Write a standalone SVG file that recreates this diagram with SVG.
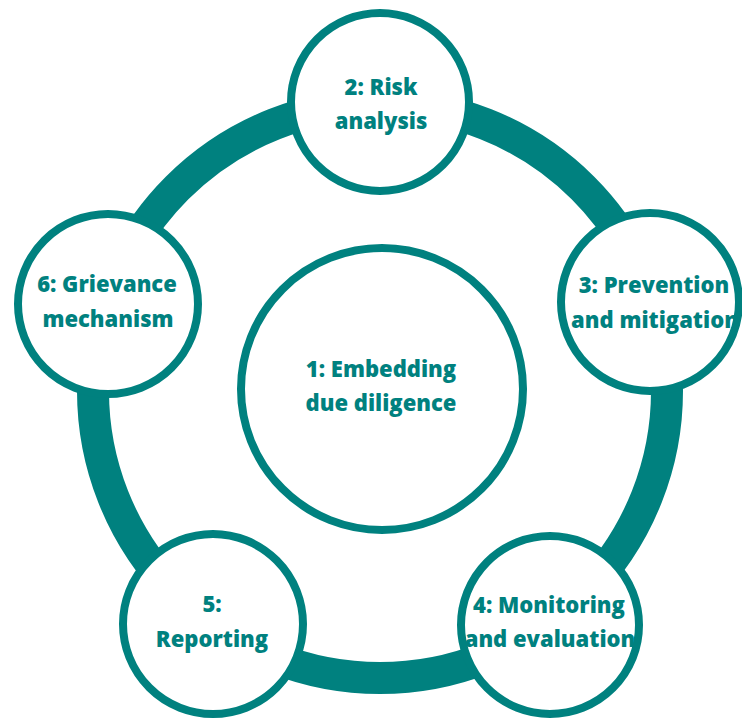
<svg xmlns="http://www.w3.org/2000/svg" width="742" height="720" viewBox="0 0 742 720">
  <style>
    .ring { fill: none; stroke: #00817f; stroke-width: 32; }
    .node { fill: #ffffff; stroke: #00817f; stroke-width: 8; }
    .label { font-family: "Open Sans", "Liberation Sans", sans-serif; font-weight: 800; font-size: 22px; fill: #00817f; text-anchor: middle; }
  </style>
  <rect width="742" height="720" fill="#ffffff"/>
  <!-- cycle band linking the five steps -->
  <g id="connectors">
    <circle class="ring" cx="380" cy="391" r="287"/>
  </g>
  <g id="node1">
    <circle class="node" cx="382" cy="389" r="141"/>
    <text class="label" x="381" y="377">1: Embedding</text>
    <text class="label" x="381" y="411">due diligence</text>
  </g>
  <g id="node2">
    <circle class="node" cx="380" cy="102" r="89"/>
    <text class="label" x="381" y="95">2: Risk</text>
    <text class="label" x="381" y="129">analysis</text>
  </g>
  <g id="node3">
    <circle class="node" cx="650" cy="302" r="89"/>
    <text class="label" x="654" y="293">3: Prevention</text>
    <text class="label" x="655" y="328">and mitigation</text>
  </g>
  <g id="node4">
    <circle class="node" cx="550" cy="625" r="89"/>
    <text class="label" x="549" y="613">4: Monitoring</text>
    <text class="label" x="550" y="647">and evaluation</text>
  </g>
  <g id="node5">
    <circle class="node" cx="213" cy="624" r="90"/>
    <text class="label" x="212" y="612">5:</text>
    <text class="label" x="212" y="647">Reporting</text>
  </g>
  <g id="node6">
    <circle class="node" cx="108" cy="304" r="90"/>
    <text class="label" x="107" y="292">6: Grievance</text>
    <text class="label" x="108" y="327">mechanism</text>
  </g>
</svg>
